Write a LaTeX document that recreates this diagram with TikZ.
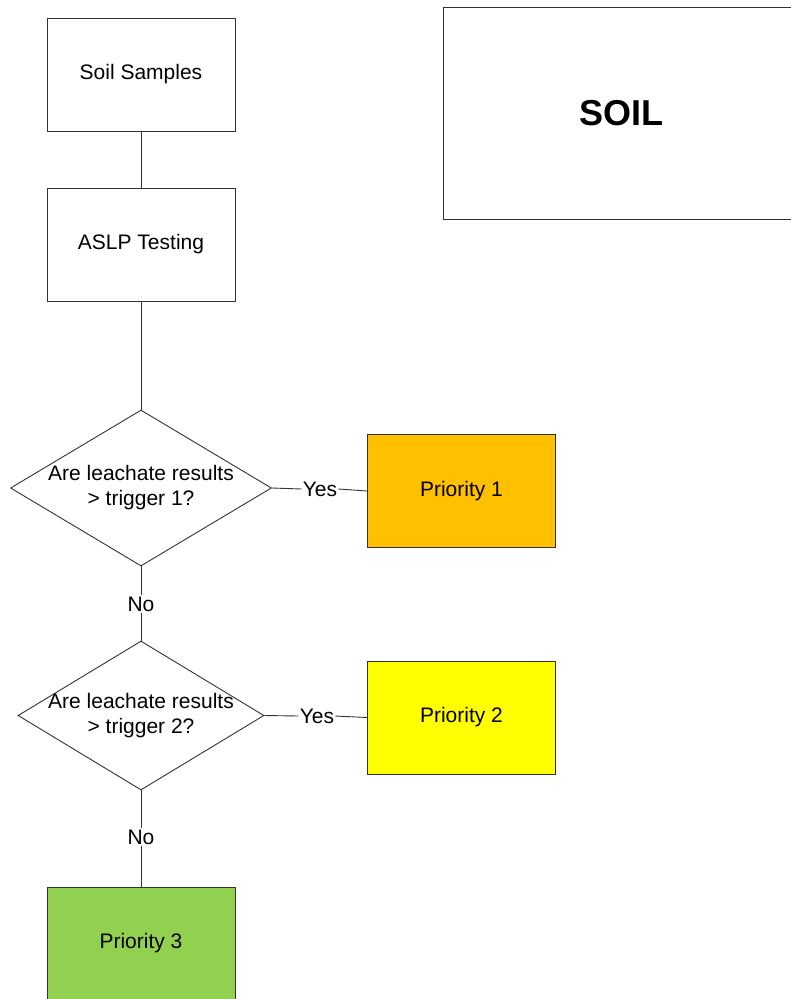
\documentclass[tikz,border=0pt]{standalone}
\usepackage{fontspec}
\setmainfont{Liberation Sans}
\usetikzlibrary{shapes.geometric}
\definecolor{prione}{HTML}{FFC000}
\definecolor{pritwo}{HTML}{FFFF00}
\definecolor{prithree}{HTML}{92D050}
\tikzset{
  stepbox/.style={draw=black!80,line width=0.9pt,minimum width=188pt,minimum height=113pt,inner sep=0pt,font=\fontsize{21}{25}\selectfont},
  decision/.style={diamond,draw=black!80,line width=0.9pt,inner sep=0pt},
  question/.style={label={[align=center,font=\fontsize{21}{25}\selectfont]center:#1}},
  answer/.style={inner sep=1pt,font=\fontsize{21}{25}\selectfont},
  link/.style={draw=black!80,line width=0.9pt}
}
\begin{document}
\begin{tikzpicture}[x=1pt,y=-1pt]
\useasboundingbox (0,0) rectangle (791,999);
\clip (0,0) rectangle (791,999);
\node[stepbox,minimum width=356pt,minimum height=212pt,font=\fontsize{36}{40}\selectfont\bfseries] (soil) at (621,113) {SOIL};
\node[stepbox] (samples) at (141,74.5) {Soil Samples};
\node[stepbox] (aslp) at (141,244.5) {ASLP Testing};
\node[decision,minimum width=261pt,minimum height=156pt,question={Are leachate results\\> trigger 1?}] (trigone) at (141,488) {};
\node[decision,minimum width=246pt,minimum height=149pt,question={Are leachate results\\> trigger 2?}] (trigtwo) at (141,715.5) {};
\node[stepbox,fill=prione] (pone) at (461.5,491) {Priority 1};
\node[stepbox,fill=pritwo] (ptwo) at (461.5,717.5) {Priority 2};
\node[stepbox,fill=prithree] (pthree) at (141,943.5) {Priority 3};
\node[answer] (yesone) at (320,489) {Yes};
\node[answer] (yestwo) at (317,716) {Yes};
\node[answer] (noone) at (141,604) {No};
\node[answer] (notwo) at (141,837) {No};
\path[link] (samples) -- (aslp);
\path[link] (aslp) -- (trigone.north);
\path[link] (trigone.east) -- (yesone.west);
\path[link] (yesone.east) -- (pone.west);
\path[link] (trigone.south) -- (noone.north);
\path[link] (noone.south) -- (trigtwo.north);
\path[link] (trigtwo.east) -- (yestwo.west);
\path[link] (yestwo.east) -- (ptwo.west);
\path[link] (trigtwo.south) -- (notwo.north);
\path[link] (notwo.south) -- (pthree.north);
\end{tikzpicture}
\end{document}
